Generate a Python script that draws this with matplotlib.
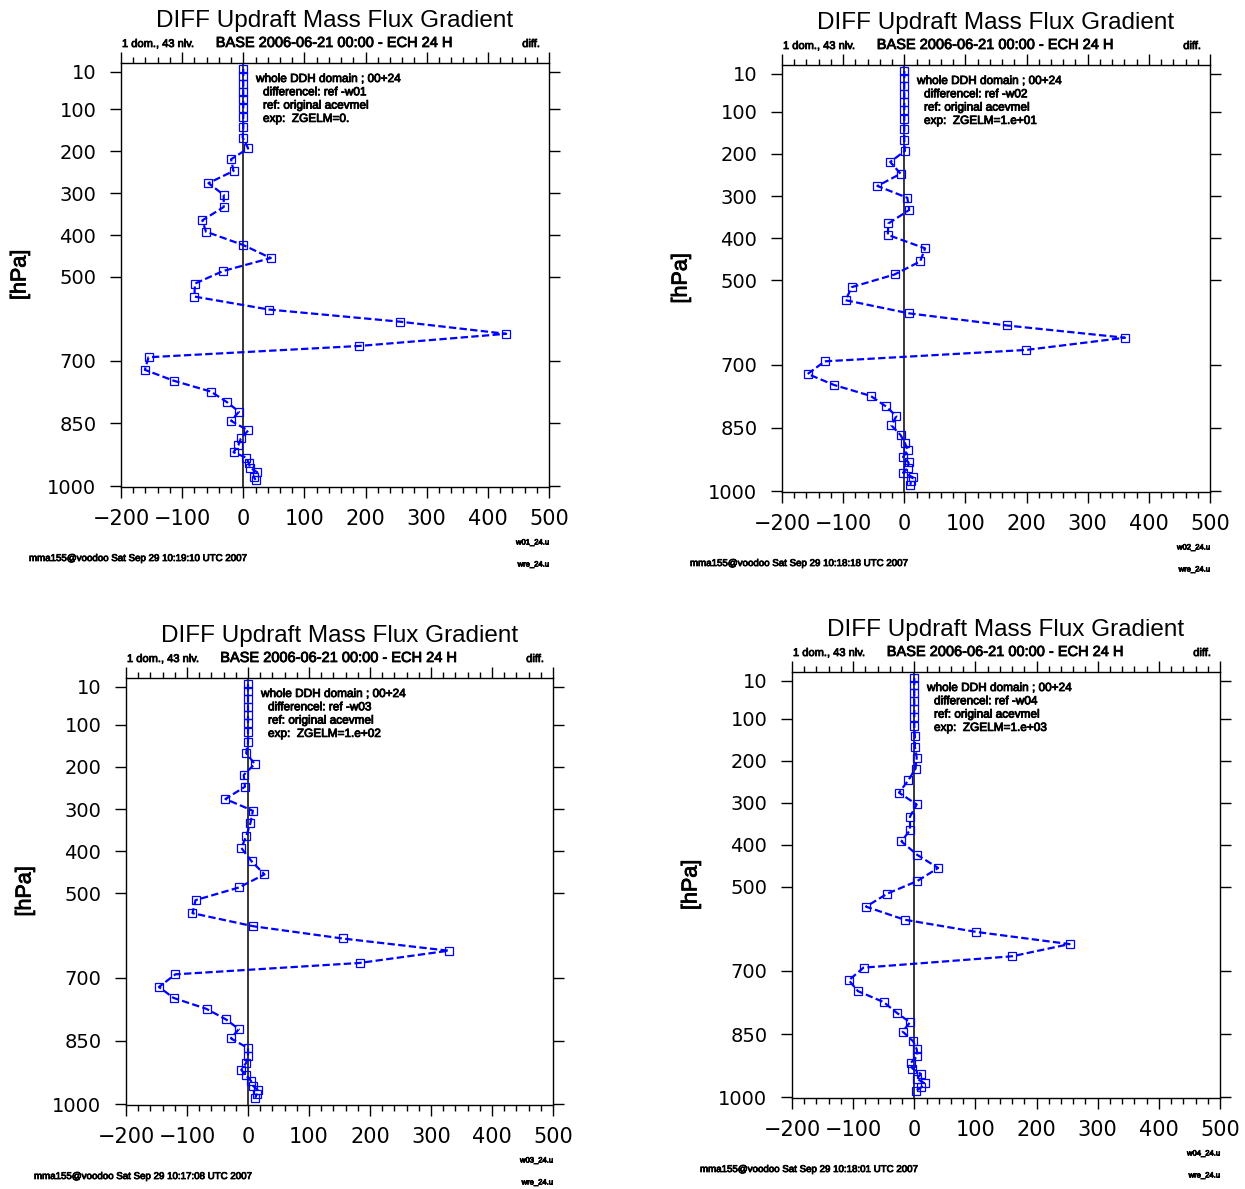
import matplotlib
matplotlib.use("Agg")
import matplotlib.pyplot as plt
import matplotlib.patheffects as pe
from matplotlib.ticker import MultipleLocator

W, H = 1245, 1189

# 43 model levels (hPa) and differences for the 4 experiments
levels = [3, 21, 40, 58, 76, 96, 118, 142, 167, 193,
          219, 247, 276, 304, 333, 365, 392, 424, 455, 486,
          516, 547, 578, 607, 636, 665, 692, 722, 748, 774,
          799, 822, 844, 867, 886, 902, 919, 932, 945, 956, 967, 977, 985]

diff_w01 = [0, 0, 0, 0, 0, 0, 0, 0, -1, 8,
            -20, -16, -57, -32, -32, -67, -61, 0, 45, -33,
            -79, -80, 42, 256, 430, 190, -155, -161, -114, -53,
            -27, -7, -20, 8, -4, -8, -16, 5, 9, 11, 23, 17, 20]
diff_w02 = [0, 0, 0, 0, 0, 0, 0, 0, 0, 1,
            -23, -6, -44, 5, 8, -26, -27, 34, 26, -16,
            -86, -96, 7, 168, 361, 199, -130, -158, -115, -55,
            -30, -13, -21, -6, 1, 6, -2, 7, 6, -2, 14, 11, 10]
diff_w03 = [0, 0, 0, 0, 0, 0, 0, 0, -3, 11,
            -7, -5, -37, 8, 4, -3, -11, 6, 27, -15,
            -86, -91, 9, 155, 329, 183, -119, -146, -122, -68,
            -36, -15, -28, 0, 0, -3, -11, -3, 5, 8, 16, 14, 12]
diff_w04 = [0, 0, 0, 0, 0, 0, 0, 1, 1, 4,
            2, -10, -25, 4, -7, -7, -21, 5, 39, 5,
            -44, -79, -16, 101, 254, 160, -83, -107, -92, -50,
            -29, -7, -19, -2, 4, 5, -6, -3, 11, 4, 17, 11, 3]

series = [diff_w01, diff_w02, diff_w03, diff_w04]
exps = ["w01", "w02", "w03", "w04"]
zgelm = ["0.", "1.e+01", "1.e+02", "1.e+03"]
stamps = ["10:19:10", "10:18:18", "10:17:08", "10:18:01"]
yticks = [10, 100, 200, 300, 400, 500, 700, 850, 1000]

# axes boxes in pixels: left, top, width, height
boxes = [(121, 63, 428, 424), (782, 65, 428, 427),
         (126, 678, 427, 427), (792, 672, 428, 426)]

fig = plt.figure(figsize=(W / 100, H / 100), dpi=100)
SANS = "Liberation Sans"
heavy = [pe.withStroke(linewidth=0.6, foreground="black")]


def txt(x, y, s, **kw):
    kw.setdefault("family", SANS)
    fig.text(x / W, 1 - y / H, s, **kw)


for i in range(4):
    l, t, w, h = boxes[i]
    ax = fig.add_axes([l / W, 1 - (t + h) / H, w / W, h / H])
    ax.axvline(0, color="black", lw=1.1, zorder=1)
    ax.plot(series[i], levels, color="blue", ls="--", dashes=(3.3, 1.5), lw=1.6,
            marker="s", ms=5.8, mfc="none", mec="blue", mew=0.9, zorder=2)
    ax.set_xlim(-200, 500)
    ax.set_ylim(1002, -11)
    ax.set_xticks(range(-200, 501, 100))
    ax.set_xticklabels(["\u2212200", "\u2212100", "0", "100", "200", "300", "400", "500"])
    ax.xaxis.set_minor_locator(MultipleLocator(20))
    ax.set_yticks(yticks)
    ax.set_yticklabels([str(v) for v in yticks])
    ax.tick_params(axis="x", which="major", direction="out", length=8, width=1,
                   top=True, labelsize=15, pad=8)
    ax.tick_params(axis="x", which="minor", direction="out", length=4, width=1, top=True)
    ax.tick_params(axis="y", which="major", direction="out", length=7.7, width=1,
                   right=True, labelsize=14, pad=10)
    for sp in ax.spines.values():
        sp.set_linewidth(1)

    txt(l + w / 2, t - 36, "DIFF Updraft Mass Flux Gradient", ha="center", va="baseline", fontsize=17.5)
    txt(l + 1, t - 16, "1 dom., 43 nlv.", ha="left", va="baseline", fontsize=8, path_effects=heavy)
    txt(l + w / 2, t - 16, "BASE 2006-06-21 00:00 - ECH 24 H", ha="center", va="baseline",
        fontsize=10.5, path_effects=heavy)
    txt(l + w - 9, t - 16, "diff.", ha="right", va="baseline", fontsize=8, path_effects=heavy)

    notes = ["whole DDH domain ; 00+24",
             "differencel: ref -" + exps[i],
             "ref: original acevmel",
             "exp:  ZGELM=" + zgelm[i]]
    for k, s in enumerate(notes):
        x0 = l + 135 if k == 0 else l + 142
        txt(x0, t + 19 + 13.3 * k, s, ha="left", va="baseline", fontsize=8.5, path_effects=heavy)

    txt(l - 101, t + h / 2, "[hPa]", ha="center", va="center", rotation=90, fontsize=15.5,
        path_effects=heavy)
    txt(l - 92, t + h + 71, "mma155@voodoo Sat Sep 29 " + stamps[i] + " UTC 2007",
        ha="left", va="center", fontsize=7, path_effects=heavy)
    txt(l + w, t + h + 56, exps[i] + "_24.u", ha="right", va="center", fontsize=5.5, path_effects=heavy)
    txt(l + w, t + h + 78, "wre_24.u", ha="right", va="center", fontsize=5.5, path_effects=heavy)

fig.savefig("out.png", dpi=100)
